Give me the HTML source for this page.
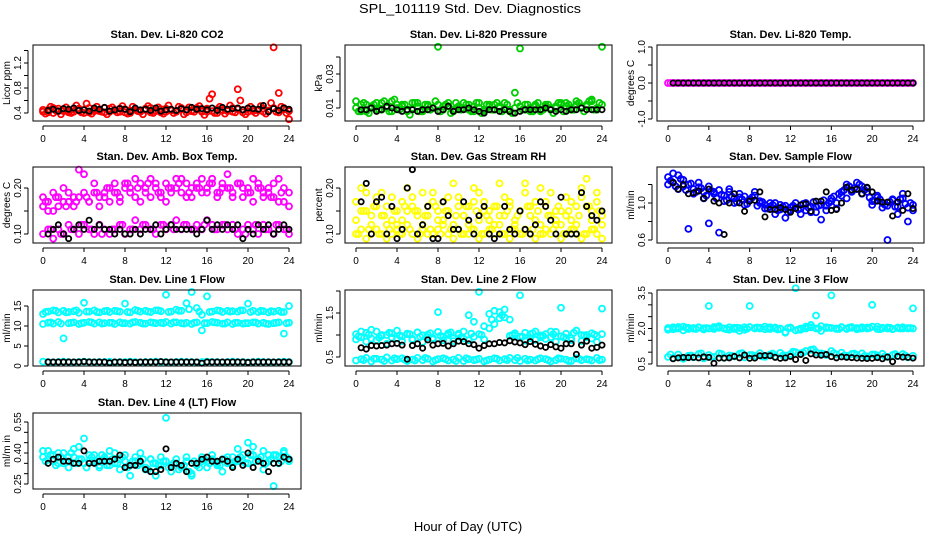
<!DOCTYPE html>
<html><head><meta charset="utf-8"><style>
body{margin:0;background:#fff;}
svg{display:block;font-family:"Liberation Sans",sans-serif;}
</style></head><body>
<svg id="chart" width="936" height="540" viewBox="0 0 936 540" xmlns="http://www.w3.org/2000/svg">
<rect width="936" height="540" fill="#fff"/>
<text x="470" y="13" font-size="13" text-anchor="middle" textLength="222" lengthAdjust="spacingAndGlyphs">SPL_101119  Std. Dev. Diagnostics</text>
<text x="468" y="531" font-size="13" text-anchor="middle">Hour of Day (UTC)</text>
<g id="panels"></g>
</svg>
<script>
// ---- data ----
const tColored = [0,0.5,1,1.5,2,2.5,3,3.5,4,4.5,5,5.5,6,6.5,7,7.5,8,8.5,9,9.5,10,10.5,11,11.5,12,12.5,13,13.5,14,14.5,15,15.5,16,16.5,17,17.5,18,18.5,19,19.5,20,20.5,21,21.5,22,22.5,23,23.5,24];
const tColored2 = [0.25,0.75,1.25,1.75,2.25,2.75,3.25,3.75,4.25,4.75,5.25,5.75,6.25,6.75,7.25,7.75,8.25,8.75,9.25,9.75,10.25,10.75,11.25,11.75,12.25,12.75,13.25,13.75,14.25,14.75,15.25,15.75,16.25,16.75,17.25,17.75,18.25,18.75,19.25,19.75,20.25,20.75,21.25,21.75,22.25,22.75,23.25,23.75];
const tBlack = [0.5,1,1.5,2,2.5,3,3.5,4,4.5,5,5.5,6,6.5,7,7.5,8,8.5,9,9.5,10,10.5,11,11.5,12,12.5,13,13.5,14,14.5,15,15.5,16,16.5,17,17.5,18,18.5,19,19.5,20,20.5,21,21.5,22,22.5,23,23.5,24];
const xTicks = [0,4,8,12,16,20,24];

const co2A = [0.42,0.45,0.40,0.47,0.43,0.41,0.46,0.44,0.40,0.48,0.43,0.45,0.41,0.47,0.44,0.42,0.46,0.40,0.45,0.43,0.47,0.41,0.44,0.46,0.42,0.45,0.43,0.48,0.41,0.44,0.46,0.42,0.47,0.43,0.40,0.45,0.44,0.42,0.46,0.41,0.47,0.43,0.45,0.42,0.44,0.48,0.41,0.46,0.43];
const co2B = [0.45,0.41,0.48,0.43,0.46,0.44,0.42,0.47,0.45,0.41,0.46,0.43,0.48,0.42,0.45,0.47,0.41,0.44,0.46,0.42,0.45,0.48,0.43,0.41,0.47,0.44,0.42,0.46,0.45,0.43,0.48,0.44,0.42,0.70,0.46,0.44,0.43,0.48,0.78,0.45,0.42,0.46,0.44,0.47,0.43,1.45,0.72,0.48,0.30];
const co2C = [0.39,0.50,0.44,0.38,0.49,0.40,0.52,0.41,0.55,0.39,0.50,0.42,0.38,0.49,0.41,0.51,0.39,0.50,0.43,0.38,0.51,0.40,0.49,0.39,0.52,0.40,0.50,0.38,0.49,0.42,0.51,0.37,0.63,0.40,0.50,0.39,0.52,0.41,0.60,0.38,0.50,0.40,0.51,0.39,0.56,0.42,0.50,0.40];
const co2K = [0.44,0.46,0.43,0.47,0.46,0.48,0.44,0.45,0.43,0.48,0.46,0.49,0.43,0.45,0.47,0.46,0.42,0.48,0.45,0.46,0.44,0.48,0.43,0.45,0.46,0.44,0.47,0.45,0.49,0.46,0.47,0.45,0.48,0.44,0.49,0.46,0.47,0.48,0.45,0.48,0.47,0.46,0.52,0.42,0.47,0.44,0.48,0.46];

const presA = [0.010,0.012,0.008,0.011,0.009,0.013,0.010,0.008,0.012,0.011,0.009,0.010,0.013,0.008,0.011,0.010,0.012,0.009,0.011,0.008,0.010,0.013,0.009,0.011,0.010,0.008,0.012,0.009,0.011,0.010,0.008,0.019,0.011,0.009,0.010,0.012,0.008,0.011,0.009,0.010,0.013,0.011,0.009,0.012,0.010,0.011,0.014,0.009,0.012];
const presB = [0.014,0.008,0.012,0.010,0.013,0.009,0.011,0.014,0.010,0.012,0.008,0.013,0.011,0.009,0.012,0.010,0.046,0.011,0.013,0.009,0.011,0.010,0.012,0.008,0.013,0.009,0.011,0.012,0.010,0.013,0.009,0.010,0.045,0.012,0.008,0.011,0.009,0.012,0.010,0.011,0.012,0.013,0.010,0.014,0.011,0.012,0.015,0.010,0.046];
const presC = [0.008,0.013,0.007,0.012,0.009,0.014,0.008,0.015,0.009,0.012,0.006,0.013,0.008,0.012,0.009,0.014,0.008,0.012,0.007,0.013,0.009,0.012,0.008,0.013,0.007,0.012,0.009,0.013,0.008,0.012,0.007,0.013,0.009,0.012,0.008,0.013,0.009,0.012,0.007,0.013,0.008,0.012,0.009,0.013,0.008,0.014,0.009,0.013];
const presK = [0.009,0.009,0.010,0.008,0.009,0.011,0.010,0.009,0.008,0.009,0.009,0.008,0.009,0.009,0.010,0.008,0.009,0.011,0.008,0.009,0.009,0.010,0.009,0.008,0.007,0.009,0.009,0.008,0.009,0.008,0.007,0.008,0.009,0.009,0.009,0.009,0.010,0.009,0.008,0.009,0.008,0.009,0.009,0.010,0.009,0.009,0.009,0.009];

const tempA = [0,0,0,0,0,0,0,0,0,0,0,0,0,0,0,0,0,0,0,0,0,0,0,0,0,0,0,0,0,0,0,0,0,0,0,0,0,0,0,0,0,0,0,0,0,0,0,0,0];
const tempB = [0,0,0,0,0,0,0,0,0,0,0,0,0,0,0,0,0,0,0,0,0,0,0,0,0,0,0,0,0,0,0,0,0,0,0,0,0,0,0,0,0,0,0,0,0,0,0,0];
const tempK = [0,0,0,0,0,0,0,0,0,0,0,0,0,0,0,0,0,0,0,0,0,0,0,0,0,0,0,0,0,0,0,0,0,0,0,0,0,0,0,0,0,0,0,0,0,0,0,0];

const ambA = [0.16,0.17,0.15,0.18,0.17,0.19,0.16,0.18,0.23,0.17,0.19,0.16,0.18,0.20,0.19,0.17,0.21,0.20,0.18,0.21,0.19,0.22,0.20,0.18,0.21,0.19,0.20,0.22,0.18,0.20,0.21,0.19,0.20,0.22,0.19,0.21,0.20,0.18,0.21,0.20,0.19,0.22,0.20,0.18,0.19,0.21,0.17,0.20,0.16];
const ambB = [0.18,0.15,0.19,0.16,0.20,0.17,0.18,0.24,0.19,0.17,0.21,0.18,0.19,0.17,0.21,0.18,0.20,0.19,0.22,0.17,0.20,0.18,0.21,0.19,0.17,0.20,0.22,0.19,0.21,0.18,0.20,0.22,0.19,0.21,0.18,0.20,0.23,0.19,0.21,0.18,0.20,0.17,0.21,0.19,0.20,0.18,0.22,0.17,0.19];
const ambC = [0.10,0.11,0.09,0.11,0.10,0.12,0.11,0.10,0.12,0.11,0.10,0.12,0.11,0.10,0.11,0.12,0.10,0.11,0.13,0.11,0.12,0.11,0.10,0.12,0.11,0.12,0.13,0.11,0.12,0.11,0.12,0.11,0.13,0.12,0.11,0.12,0.11,0.12,0.10,0.11,0.12,0.11,0.10,0.12,0.11,0.10,0.12,0.11,0.10];
const ambD = [0.17,0.11,0.18,0.10,0.16,0.11,0.17,0.12,0.18,0.11,0.19,0.10,0.20,0.11,0.19,0.12,0.21,0.11,0.20,0.12,0.21,0.11,0.19,0.12,0.20,0.11,0.21,0.12,0.19,0.11,0.20,0.12,0.21,0.11,0.19,0.12,0.20,0.11,0.21,0.10,0.19,0.12,0.20,0.11,0.18,0.12,0.19,0.11];
const ambK = [0.10,0.11,0.12,0.10,0.09,0.11,0.12,0.11,0.13,0.11,0.12,0.11,0.11,0.10,0.11,0.10,0.10,0.11,0.10,0.11,0.11,0.12,0.10,0.11,0.12,0.11,0.11,0.11,0.11,0.10,0.11,0.13,0.11,0.12,0.11,0.12,0.11,0.12,0.09,0.11,0.10,0.12,0.11,0.12,0.10,0.11,0.12,0.11];

const rhA = [0.10,0.11,0.09,0.10,0.11,0.10,0.09,0.10,0.11,0.10,0.12,0.10,0.09,0.11,0.10,0.10,0.11,0.12,0.10,0.09,0.11,0.10,0.10,0.11,0.09,0.10,0.11,0.10,0.12,0.10,0.09,0.11,0.10,0.11,0.10,0.09,0.10,0.11,0.10,0.12,0.09,0.10,0.11,0.10,0.09,0.10,0.11,0.10,0.09];
const rhB = [0.17,0.20,0.15,0.14,0.16,0.19,0.12,0.18,0.15,0.13,0.20,0.16,0.15,0.19,0.14,0.17,0.15,0.13,0.18,0.21,0.16,0.14,0.12,0.17,0.19,0.15,0.13,0.16,0.21,0.14,0.17,0.12,0.15,0.19,0.16,0.13,0.20,0.17,0.14,0.15,0.12,0.18,0.13,0.16,0.20,0.22,0.15,0.17,0.14];
const rhC = [0.13,0.15,0.19,0.12,0.18,0.14,0.16,0.13,0.12,0.17,0.15,0.18,0.14,0.12,0.16,0.19,0.13,0.17,0.15,0.12,0.18,0.14,0.16,0.20,0.13,0.17,0.15,0.12,0.14,0.18,0.16,0.13,0.15,0.21,0.14,0.17,0.12,0.16,0.19,0.13,0.15,0.14,0.17,0.12,0.18,0.16,0.13,0.19,0.12];
const rhD = [0.10,0.15,0.11,0.16,0.10,0.14,0.11,0.15,0.10,0.16,0.11,0.15,0.10,0.14,0.11,0.16,0.10,0.15,0.11,0.14,0.10,0.16,0.11,0.15,0.10,0.14,0.11,0.16,0.10,0.15,0.11,0.14,0.10,0.16,0.11,0.15,0.10,0.14,0.11,0.16,0.10,0.15,0.11,0.14,0.10,0.16,0.11,0.15];
const rhK = [0.17,0.21,0.10,0.17,0.18,0.10,0.16,0.09,0.11,0.20,0.24,0.10,0.12,0.16,0.09,0.09,0.17,0.14,0.11,0.11,0.17,0.13,0.10,0.14,0.16,0.10,0.09,0.10,0.16,0.11,0.10,0.15,0.11,0.10,0.12,0.17,0.16,0.13,0.10,0.18,0.10,0.10,0.10,0.19,0.16,0.14,0.13,0.15];

const flowA = [1.28,1.22,1.30,1.18,1.20,1.15,1.22,1.12,1.18,1.10,1.14,1.08,1.12,1.05,1.10,1.07,1.03,1.08,1.00,0.98,0.96,1.00,0.93,0.97,0.92,0.95,0.94,1.00,0.90,0.96,0.98,0.92,1.02,1.00,1.08,1.05,1.12,1.15,1.18,1.12,1.02,1.06,1.00,0.97,1.03,0.96,1.05,0.95,0.98];
const flowB = [1.20,1.32,1.15,1.25,0.72,1.10,1.17,1.05,0.78,1.12,0.68,1.02,1.15,1.00,1.06,0.98,1.04,1.12,1.02,0.94,1.00,0.88,0.98,0.84,0.95,1.00,0.88,0.92,0.96,0.90,0.82,0.97,1.05,0.94,1.12,1.20,1.14,1.22,1.10,1.16,0.98,1.08,0.95,0.60,1.04,0.88,1.10,0.80,0.92];
const flowC = [1.24,1.18,1.26,1.14,1.21,1.12,1.16,1.08,1.13,1.05,1.09,1.03,1.07,1.01,1.04,0.99,1.06,0.97,1.01,0.94,0.98,0.92,0.96,0.90,0.97,0.93,0.99,0.95,1.01,0.97,1.03,1.00,1.07,1.10,1.14,1.18,1.16,1.20,1.14,1.06,1.02,1.04,0.98,1.01,0.96,1.04,0.99,1.00];
const flowK = [1.22,1.15,1.20,1.10,1.11,1.13,1.05,1.15,1.02,1.00,0.66,1.00,1.10,1.00,0.91,1.02,1.03,1.12,0.85,0.93,0.93,0.95,0.93,0.90,0.94,0.98,0.99,0.91,1.02,1.02,1.12,0.92,0.93,1.00,1.17,1.14,1.15,1.10,1.17,1.12,1.02,1.01,1.01,0.86,1.01,0.92,1.10,0.94];

const l1A = [13.0,13.6,13.9,13.4,13.8,13.5,13.7,13.3,15.8,13.6,13.9,13.4,13.7,13.5,13.8,13.6,15.6,13.4,14.0,13.6,13.8,13.5,13.9,13.7,17.8,13.6,14.1,13.8,15.7,18.5,14.5,12.8,17.4,13.6,13.9,13.5,13.8,13.7,13.6,13.9,15.6,13.8,13.5,13.7,13.4,13.6,13.8,13.5,15.0];
const l1B = [10.5,10.8,10.6,11.0,6.9,10.7,10.9,10.5,10.8,11.0,10.6,10.9,10.7,10.8,10.5,10.9,10.7,10.6,11.0,10.8,10.6,10.9,10.7,10.8,11.0,10.6,10.9,10.7,10.8,10.5,10.9,8.9,10.7,11.0,10.8,10.6,10.9,10.5,10.8,10.6,10.7,10.9,10.6,10.8,10.5,10.7,10.9,8.1,10.8];
const l1C = [1.1,1.0,0.9,1.0,1.1,1.0,0.9,1.0,1.1,1.0,0.9,1.0,1.0,1.1,0.9,1.0,1.0,1.1,1.0,0.9,1.0,1.0,1.1,1.0,1.0,0.9,1.0,1.1,1.0,1.0,0.9,1.0,1.1,1.0,1.0,0.9,1.0,1.1,1.0,1.0,0.9,1.0,1.1,1.0,1.0,0.9,1.0,1.1,1.0];
const l1D = [13.5,10.9,13.8,10.6,13.4,10.8,13.9,10.7,13.6,10.9,13.5,10.6,13.8,10.8,13.7,10.7,13.5,10.9,13.8,10.6,13.6,10.8,13.9,10.7,13.5,10.9,13.8,10.6,14.2,10.8,13.6,10.7,13.5,10.9,13.8,10.6,13.6,10.8,13.9,10.7,13.5,10.9,13.8,10.6,13.7,10.8,13.5,10.7];
const l1K = [1.0,1.0,1.0,1.0,1.0,1.0,1.0,1.1,1.0,1.0,1.0,1.0,0.8,1.0,1.0,0.9,1.0,0.9,1.0,1.0,1.0,1.0,1.1,1.0,1.0,1.0,1.0,1.0,1.0,1.0,0.7,1.0,1.0,1.0,1.0,1.0,1.0,1.0,1.0,0.9,1.0,1.0,1.0,1.0,1.0,1.0,1.0,1.0];

const l2A = [1.02,0.95,1.05,0.92,1.08,0.98,1.00,0.94,1.10,0.97,1.03,0.91,1.06,0.99,1.01,0.93,1.07,0.96,1.04,0.92,1.00,1.08,1.45,1.30,1.02,1.20,1.48,1.55,1.52,1.40,0.98,1.04,0.96,1.05,0.93,1.08,0.99,1.02,0.95,1.07,0.97,1.03,0.93,1.10,1.00,0.95,1.04,0.98,1.02];
const l2B = [0.90,1.08,0.85,1.12,0.88,1.00,0.80,1.04,0.92,0.86,1.02,0.89,1.06,0.84,0.95,0.90,1.52,0.88,1.00,0.86,1.03,0.92,0.88,0.96,1.98,0.90,1.15,1.25,1.38,1.58,1.35,1.00,1.90,0.87,1.02,0.89,0.95,0.91,1.08,0.85,1.62,0.93,0.88,1.10,0.86,1.00,0.92,0.84,1.60];
const l2C = [0.42,0.45,0.48,0.40,0.46,0.44,0.49,0.42,0.45,0.47,0.41,0.44,0.48,0.43,0.46,0.40,0.45,0.47,0.42,0.44,0.48,0.41,0.45,0.43,0.46,0.40,0.44,0.47,0.42,0.45,0.48,0.43,0.41,0.46,0.44,0.42,0.47,0.45,0.40,0.43,0.46,0.44,0.41,0.47,0.43,0.45,0.42,0.48,0.44];
const l2D = [0.97,0.43,1.01,0.46,0.94,0.41,1.05,0.47,0.99,0.44,1.02,0.42,0.96,0.48,1.04,0.43,0.98,0.45,1.06,0.41,0.95,0.47,1.03,0.44,1.00,0.42,1.35,0.46,1.45,0.43,1.00,0.48,0.96,0.42,1.04,0.45,0.98,0.43,1.02,0.47,0.95,0.41,1.05,0.46,0.99,0.44,1.01,0.43];
const l2K = [0.71,0.68,0.76,0.75,0.76,0.77,0.80,0.81,0.77,0.45,0.76,0.80,0.70,0.89,0.77,0.80,0.81,0.75,0.80,0.86,0.85,0.80,0.78,0.70,0.76,0.80,0.80,0.83,0.82,0.87,0.84,0.82,0.78,0.85,0.79,0.75,0.72,0.78,0.73,0.70,0.80,0.80,0.56,0.77,0.86,0.70,0.72,0.77];

const l3A = [1.95,2.05,2.00,2.08,1.98,2.02,2.05,1.96,2.00,2.06,2.10,2.00,1.95,2.03,1.90,2.05,2.95,2.02,2.00,2.08,1.98,2.04,2.00,1.85,2.02,3.70,1.95,2.00,2.05,2.55,2.10,2.02,3.40,2.00,2.05,1.98,2.06,2.02,2.00,2.04,3.00,2.08,2.00,2.04,1.98,2.02,2.05,2.00,2.85];
const l3B = [2.02,1.97,2.06,1.92,2.03,1.99,2.04,2.01,2.95,1.98,2.03,2.00,2.05,1.98,2.02,1.95,2.06,2.00,2.03,1.97,2.05,2.00,1.98,1.82,2.04,1.92,2.00,2.08,2.15,2.00,1.90,2.05,2.02,1.98,2.06,2.00,2.03,1.97,2.05,2.00,2.08,1.98,2.03,2.00,1.97,2.04,2.00,2.02,2.00];
const l3C = [0.80,0.75,0.90,0.72,0.85,0.78,0.92,0.74,0.88,0.80,0.95,0.76,0.86,0.82,0.93,0.78,0.88,0.84,0.96,0.80,0.90,0.82,0.97,0.86,0.92,1.00,0.95,1.05,1.10,1.00,0.95,0.88,1.05,0.90,0.98,0.85,0.92,0.88,0.95,0.82,0.90,0.86,0.93,0.80,0.88,0.84,0.92,0.78,0.85];
const l3D = [0.90,2.00,0.78,2.04,0.86,1.98,0.95,2.02,0.80,2.05,0.92,1.97,0.84,2.03,0.96,1.99,0.88,2.04,0.82,2.00,0.94,1.96,0.86,2.02,1.02,1.95,0.98,2.06,1.12,2.00,0.92,2.03,0.96,1.98,0.86,2.04,0.94,2.00,0.84,2.02,0.90,1.97,0.82,2.03,0.92,2.00,0.86,2.02];
const l3K = [0.72,0.76,0.78,0.77,0.78,0.76,0.80,0.78,0.53,0.75,0.75,0.76,0.82,0.76,0.88,0.74,0.75,0.85,0.86,0.85,0.78,0.74,0.76,0.82,0.69,0.90,0.65,0.93,0.88,0.87,0.90,0.81,0.76,0.80,0.78,0.77,0.75,0.74,0.73,0.74,0.77,0.72,0.79,0.60,0.82,0.79,0.78,0.75];

const l4A = [0.38,0.41,0.36,0.40,0.35,0.38,0.42,0.37,0.47,0.36,0.39,0.34,0.38,0.41,0.35,0.37,0.39,0.34,0.36,0.40,0.33,0.37,0.35,0.38,0.57,0.34,0.37,0.33,0.36,0.30,0.35,0.38,0.36,0.39,0.34,0.37,0.35,0.38,0.42,0.36,0.45,0.39,0.37,0.41,0.36,0.39,0.38,0.40,0.37];
const l4B = [0.41,0.37,0.39,0.35,0.40,0.33,0.38,0.43,0.35,0.39,0.36,0.33,0.37,0.34,0.40,0.32,0.36,0.29,0.38,0.35,0.32,0.37,0.29,0.34,0.36,0.31,0.35,0.33,0.38,0.29,0.34,0.36,0.33,0.37,0.35,0.31,0.38,0.34,0.36,0.39,0.35,0.43,0.37,0.32,0.39,0.24,0.35,0.41,0.36];
const l4C = [0.36,0.39,0.34,0.38,0.36,0.40,0.35,0.37,0.33,0.38,0.36,0.39,0.34,0.37,0.35,0.38,0.33,0.36,0.34,0.37,0.32,0.35,0.34,0.36,0.33,0.35,0.32,0.34,0.31,0.36,0.33,0.37,0.35,0.36,0.34,0.37,0.35,0.36,0.38,0.35,0.39,0.36,0.38,0.35,0.37,0.39,0.36,0.38];
const l4K = [0.35,0.37,0.38,0.36,0.36,0.35,0.35,0.41,0.35,0.35,0.36,0.36,0.36,0.37,0.39,0.33,0.34,0.34,0.36,0.32,0.31,0.31,0.32,0.42,0.33,0.35,0.34,0.31,0.35,0.35,0.37,0.38,0.36,0.36,0.37,0.36,0.33,0.37,0.34,0.40,0.33,0.36,0.35,0.31,0.35,0.35,0.38,0.37];

const co2Ticks = [0.4,0.6,0.8,1.0,1.2,1.4], co2Labels = ["0.4","","0.8","","1.2",""];
const presTicks = [0.01,0.02,0.03,0.04], presLabels = ["0.01","","0.03",""];
const tempTicks = [-1,-0.5,0,0.5,1], tempLabels = ["-1.0","","0.0","","1.0"];
const ambTicks = [0.10,0.15,0.20], ambLabels = ["0.10","","0.20"];
const flowTicks = [0.6,0.8,1.0,1.2], flowLabels = ["0.6","","1.0",""];
const l1Ticks = [0,5,10,15], l1Labels = ["0","5","10","15"];
const l2Ticks = [0.5,1.0,1.5,2.0], l2Labels = ["0.5","","1.5",""];
const l3Ticks = [0.5,1.0,1.5,2.0,2.5,3.0,3.5], l3Labels = ["0.5","","","2.0","","","3.5"];
const l4Ticks = [0.25,0.30,0.35,0.40,0.45,0.50,0.55], l4Labels = ["0.25","","","0.40","","","0.55"];

// ---- layout ----
const cols = [{L:33,R:301,x0:43,x24:289},{L:345,R:612,x0:356,x24:602},{L:657,R:924,x0:668,x24:913}];
const rows = [{T:45,B:121},{T:167,B:243},{T:290,B:366},{T:413,B:489}];
const panels = [
 {name:"co2",title:"Stan. Dev. Li-820 CO2",ylab:"Licor ppm",c:0,r:0,cal:[0.4,113,1.2,63],ticks:co2Ticks,labels:co2Labels,col:"#ff0000",series:[co2A,co2B],series2:[co2C],black:co2K},
 {name:"pressure",title:"Stan. Dev. Li-820 Pressure",ylab:"kPa",c:1,r:0,cal:[0.01,108,0.03,74],ticks:presTicks,labels:presLabels,col:"#00cd00",series:[presA,presB],series2:[presC],black:presK},
 {name:"temp",title:"Stan. Dev. Li-820 Temp.",ylab:"degrees C",c:2,r:0,cal:[1,47,-1,119],ticks:tempTicks,labels:tempLabels,col:"#ff00ff",series:[tempA],series2:[tempB],black:tempK},
 {name:"amb-box-temp",title:"Stan. Dev. Amb. Box Temp.",ylab:"degrees C",c:0,r:1,cal:[0.1,234,0.2,188],ticks:ambTicks,labels:ambLabels,col:"#ff00ff",series:[ambA,ambB,ambC],series2:[ambD],black:ambK},
 {name:"gas-stream-rh",title:"Stan. Dev. Gas Stream RH",ylab:"percent",c:1,r:1,cal:[0.1,234,0.2,188],ticks:ambTicks,labels:ambLabels,col:"#ffff00",series:[rhA,rhB,rhC],series2:[rhD],black:rhK},
 {name:"sample-flow",title:"Stan. Dev. Sample Flow",ylab:"ml/min",c:2,r:1,cal:[1.0,203,0.6,240],ticks:flowTicks,labels:flowLabels,col:"#0000ff",series:[flowA,flowB],series2:[flowC],black:flowK},
 {name:"line1-flow",title:"Stan. Dev. Line 1 Flow",ylab:"ml/min",c:0,r:2,cal:[0,366,15,306],ticks:l1Ticks,labels:l1Labels,col:"#00ffff",series:[l1A,l1B,l1C],series2:[l1D],black:l1K},
 {name:"line2-flow",title:"Stan. Dev. Line 2 Flow",ylab:"ml/min",c:1,r:2,cal:[0.5,357,1.5,313],ticks:l2Ticks,labels:l2Labels,col:"#00ffff",series:[l2A,l2B,l2C],series2:[l2D],black:l2K},
 {name:"line3-flow",title:"Stan. Dev. Line 3 Flow",ylab:"ml/min",c:2,r:2,cal:[0.5,364,3.5,293],ticks:l3Ticks,labels:l3Labels,col:"#00ffff",series:[l3A,l3B,l3C],series2:[l3D],black:l3K},
 {name:"line4-flow",title:"Stan. Dev. Line 4 (LT) Flow",ylab:"ml/m in",c:0,r:3,cal:[0.25,484,0.55,422],ticks:l4Ticks,labels:l4Labels,col:"#00ffff",series:[l4A,l4B],series2:[l4C],black:l4K}
];
const NS="http://www.w3.org/2000/svg";
const root=document.getElementById("panels");
function mk(tag,parent,attrs){const e=document.createElementNS(NS,tag);for(const k in attrs)e.setAttribute(k,attrs[k]);parent.appendChild(e);return e;}
panels.forEach(p=>{
  const C=cols[p.c],R=rows[p.r];
  const xs=v=>C.x0+(C.x24-C.x0)*v/24;
  const ys=v=>p.cal[1]+(v-p.cal[0])*(p.cal[3]-p.cal[1])/(p.cal[2]-p.cal[0]);
  const g=mk("g",root,{});
  
  
  const t=mk("text",g,{x:(C.L+C.R)/2,y:R.T-7,"font-size":11,"font-weight":"bold","text-anchor":"middle"});
  t.textContent=p.title;
  
  
  const yl=mk("text",g,{x:0,y:0,"font-size":10,"text-anchor":"middle",transform:`translate(${C.L-23},${(R.T+R.B)/2}) rotate(-90)`});
  yl.textContent=p.ylab;
  
  
  const pts=mk("g",g,{fill:"none","stroke-width":1.8});
  
  
  p.series.forEach(s=>{s.forEach((v,i)=>{
    const c=mk("circle",pts,{cx:xs(tColored[i]),cy:ys(v),r:3,stroke:p.col});
    
    
  });});
  p.series2.forEach(s=>{s.forEach((v,i)=>{
    const c=mk("circle",pts,{cx:xs(tColored2[i]),cy:ys(v),r:3,stroke:p.col});
    
    
  });});
  p.black.forEach((v,i)=>{
    const c=mk("circle",pts,{cx:xs(tBlack[i]),cy:ys(v),r:2.6,stroke:"#000"});
    
    
  });
  const box=mk("rect",g,{x:C.L,y:R.T,width:C.R-C.L,height:R.B-R.T,fill:"none",stroke:"#000","stroke-width":1});
  
  
  const xa=mk("g",g,{});
  
  
  mk("line",xa,{x1:xs(0),x2:xs(24),y1:R.B+5,y2:R.B+5,stroke:"#000"});
  xTicks.forEach(v=>{
    mk("line",xa,{x1:xs(v),x2:xs(v),y1:R.B+5,y2:R.B+9,stroke:"#000"});
    const tl=mk("text",xa,{x:xs(v),y:R.B+21,"font-size":10,"text-anchor":"middle"});
    tl.textContent=v;
    
    
  });
  const ya=mk("g",g,{});
  
  
  const yv=p.ticks.map(ys);
  mk("line",ya,{x1:C.L-5,x2:C.L-5,y1:Math.min(...yv),y2:Math.max(...yv),stroke:"#000"});
  p.ticks.forEach((v,i)=>{
    mk("line",ya,{x1:C.L-9,x2:C.L-5,y1:ys(v),y2:ys(v),stroke:"#000"});
    if(p.labels[i]){
      const tl=mk("text",ya,{x:0,y:0,"font-size":10,"text-anchor":"middle",transform:`translate(${C.L-12},${ys(v)}) rotate(-90)`});
      tl.textContent=p.labels[i];
      
      
    }
  });
});
</script>
</body></html>
